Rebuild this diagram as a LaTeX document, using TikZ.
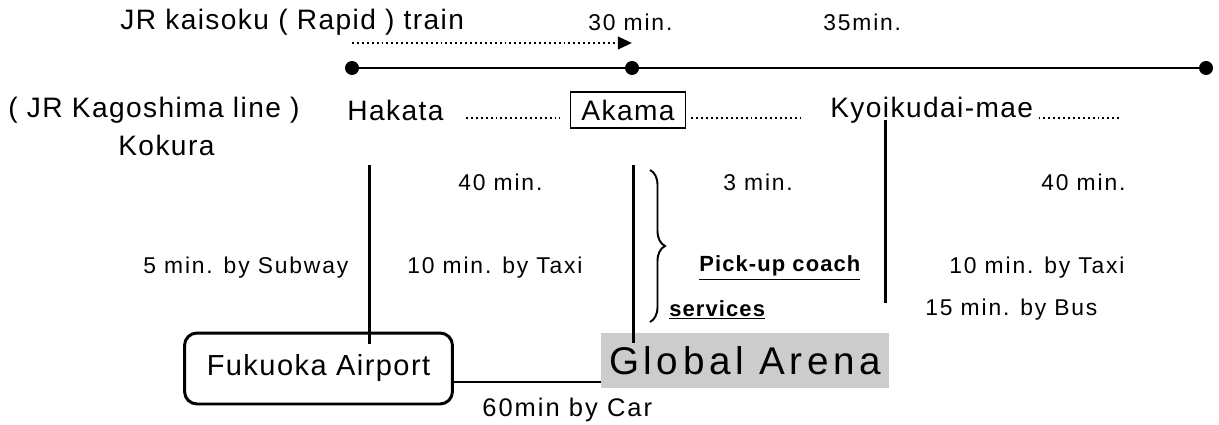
\documentclass[tikz,border=0pt]{standalone}
\usepackage{fontspec}
\setmainfont{Liberation Sans}[LetterSpace=5]
\newfontfamily\widefont{Liberation Sans}[LetterSpace=8]
\newfontfamily\arenafont{Liberation Sans}[LetterSpace=12]
\usetikzlibrary{arrows.meta,positioning,calc,decorations.pathreplacing}
\tikzstyle{station}=[inner sep=0pt,anchor=west,font=\fontsize{16}{18}\selectfont]
\tikzstyle{timing}=[inner sep=0pt,anchor=west,font=\widefont\fontsize{13}{15}\selectfont]
\tikzstyle{coach}=[inner sep=0pt,anchor=west,font=\bfseries\fontsize{12.5}{14}\selectfont]
\tikzstyle{stop}=[circle,fill=black,inner sep=0pt,minimum size=0.28cm]
\tikzstyle{track}=[line width=1.7pt]
\tikzstyle{leader}=[line width=1.6pt,dash pattern=on 1.1pt off 1.7pt]
\tikzstyle{link}=[line width=1.7pt]

\begin{document}
\begin{tikzpicture}[x=0.02cm,y=-0.02cm]
\useasboundingbox (0,0) rectangle (1219,425);
%--------------------start train code --------------------
	\node[station] (kaisoku) at (120,22) {JR kaisoku ( Rapid ) train};
	\node[timing] (t30) at (588,22) {30 min.};
	\node[timing] (t35) at (823,22) {35min.};
	
	\coordinate (arrowstart) at (352,43);
	\coordinate (arrowend) at (632,43);
	\draw[leader,-{Triangle[length=8pt,width=7pt]}] (arrowstart) -- (arrowend);
	
	%Line with stops
	\node[stop] (stopA) at (352,68) {};
	\node[stop] (stopB) at (632,68) {};
	\node[stop] (stopC) at (1206,68) {};
	\draw[track] (stopA) -- (stopB) -- (stopC);
%--------------------end train code ----------------------
%--------------------start station code ------------------
	\node[station] (kagoshima) at (8,110) {( JR Kagoshima line )};
	\node[station] (hakata) at (347,110) {Hakata};
	\node[station,draw,line width=1.1pt,minimum width=2.3cm,minimum height=0.72cm,anchor=center] (akama) at (628,110) {Akama};
	\node[station] (kyoikudai) at (830,110) {Kyoikudai-mae};
	\node[station] (kokura) at (118,145) {Kokura};
	
	\coordinate (leaderend) at (1122,118);
	\draw[leader] (466,118) -- ([xshift=-10*0.02cm]akama.west |- leaderend);
	\draw[leader] ([xshift=5*0.02cm]akama.east |- leaderend) -- (800,118);
	\draw[leader] ([xshift=5*0.02cm]kyoikudai.east |- leaderend) -- (leaderend);
%--------------------end station code --------------------
%--------------------start access code -------------------
	\node[timing] (hakata40) at (458,182) {40 min.};
	\node[timing] (akama3) at (723,182) {3 min.};
	\node[timing] (kyoi40) at (1041,182) {40 min.};
	\node[timing] (subway) at (143,268) {5 min. by Subway};
	\node[timing] (taxiA) at (407,268) {10 min. by Taxi};
	\node[coach] (pickup) at (699,268) {\underline{Pick-up coach}};
	\node[coach] (services) at (669,310) {\underline{services}};
	\node[timing] (taxiB) at (949,268) {10 min. by Taxi};
	\node[timing] (bus) at (925,310) {15 min. by Bus};
	
	\draw[decorate,decoration={brace,amplitude=0.3cm},line width=1.1pt] (650,170) -- (650,322);
	
	\node[draw,line width=1.7pt,rounded corners=0.25cm,minimum width=5.36cm,minimum height=1.42cm,font=\fontsize{16.5}{18}\selectfont] (airport) at (318.5,368.5) {Fukuoka Airport};
	\node[fill=black!20,inner sep=0pt,minimum width=5.76cm,minimum height=1.1cm,font=\arenafont\fontsize{22}{24}\selectfont] (arena) at (745,360.5) {Global Arena};
	
	%Vertical links
	\coordinate (hakatatop) at (369,165);
	\coordinate (akamatop) at (633,165);
	\coordinate (kyoitop) at (885,120);
	\draw[link] (hakatatop) -- ([yshift=-12*0.02cm]hakatatop |- airport.north);
	\draw[link] (akamatop) -- ([yshift=-10*0.02cm]akamatop |- arena.north);
	\draw[link] (kyoitop) -- (885,303);
	
	%Car link
	\coordinate (carstart) at (452,382);
	\draw[link] (carstart) -- (arena.west |- carstart);
	\node[timing,font=\widefont\fontsize{14.5}{16}\selectfont] (car) at (482,410) {60min by Car};
%--------------------end access code ---------------------
\end{tikzpicture}
\end{document}
